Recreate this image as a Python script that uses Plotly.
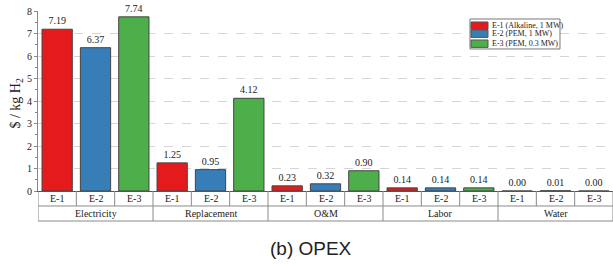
import plotly.graph_objects as go

groups = ["Electricity", "Replacement", "O&M", "Labor", "Water"]
series_names = ["E-1 (Alkaline, 1 MW)", "E-2 (PEM, 1 MW)", "E-3 (PEM, 0.3 MW)"]
short_names = ["E-1", "E-2", "E-3"]
e1_values = [7.19, 1.25, 0.23, 0.14, 0.00]
e2_values = [6.37, 0.95, 0.32, 0.14, 0.01]
e3_values = [7.74, 4.12, 0.90, 0.14, 0.00]
colors = ["#e41a1c", "#377eb8", "#4daf4a"]
y_ticks = [0, 1, 2, 3, 4, 5, 6, 7, 8]

serif = "Liberation Serif"
txt = "#222222"
all_values = [e1_values, e2_values, e3_values]
n_groups = len(groups)
n_series = len(short_names)
n_slots = n_groups * n_series

fig = go.Figure()
for k in range(n_series):
    xs = [g * n_series + k + 0.5 for g in range(n_groups)]
    fig.add_trace(go.Bar(
        x=xs, y=all_values[k], name=series_names[k], width=0.79,
        marker=dict(color=colors[k], line=dict(color="#444444", width=1)),
        text=[f"{v:.2f}" for v in all_values[k]], textposition="outside",
        textfont=dict(family=serif, size=10, color=txt),
        cliponaxis=False, showlegend=False,
    ))

row1 = -0.0833
row2 = -0.1667
shapes = []
for i in range(n_slots + 1):
    y1 = row2 if i % n_series == 0 else row1
    shapes.append(dict(type="line", xref="x", yref="paper", x0=i, x1=i, y0=0, y1=y1,
                       line=dict(color="#8a8a8a", width=1)))
for yy in (row1, row2):
    shapes.append(dict(type="line", xref="x", yref="paper", x0=0, x1=n_slots,
                       y0=yy, y1=yy, line=dict(color="#8a8a8a", width=1)))

annotations = []
for i in range(n_slots):
    annotations.append(dict(x=i + 0.5, y=row1 / 2, xref="x", yref="paper",
                            text=short_names[i % n_series], showarrow=False, yanchor="middle",
                            font=dict(family=serif, size=10, color=txt)))
for g, name in enumerate(groups):
    annotations.append(dict(x=g * n_series + n_series / 2, y=(row1 + row2) / 2, xref="x", yref="paper",
                            text=name, showarrow=False, yanchor="middle",
                            font=dict(family=serif, size=10, color=txt)))
annotations.append(dict(x=0.475, y=-0.322, xref="paper", yref="paper", text="(b) OPEX",
                        showarrow=False, yanchor="middle", xanchor="center",
                        font=dict(family="Liberation Sans", size=19, color=txt)))
annotations.append(dict(x=-0.037, y=0.49, xref="paper", yref="paper", text="$ / kg H<sub>2</sub>",
                        showarrow=False, textangle=-90, xanchor="center", yanchor="middle",
                        font=dict(family=serif, size=14, color=txt)))

# legend (drawn manually to match the small swatches)
leg_x0, leg_x1 = 0.7513, 0.9078
leg_top, leg_bot = 0.9556, 0.789
shapes.append(dict(type="rect", xref="paper", yref="paper", x0=leg_x0, x1=leg_x1,
                   y0=leg_bot, y1=leg_top, line=dict(color="#777777", width=1), fillcolor="white"))
row_tops = [0.9389, 0.8944, 0.8389]
row_h = 0.0411
for k in range(n_series):
    shapes.append(dict(type="rect", xref="paper", yref="paper", x0=0.753, x1=0.7826,
                       y0=row_tops[k] - row_h, y1=row_tops[k],
                       fillcolor=colors[k], line=dict(color="#555555", width=1)))
    annotations.append(dict(x=0.786, y=row_tops[k] - row_h / 2, xref="paper", yref="paper",
                            text=series_names[k], showarrow=False, xanchor="left", yanchor="middle",
                            font=dict(family=serif, size=8, color=txt)))

fig.update_layout(
    width=613, height=265,
    margin=dict(l=38, r=0, t=11, b=74, autoexpand=False),
    paper_bgcolor="white", plot_bgcolor="white",
    barmode="overlay",
    showlegend=False,
    hovermode=False,
    shapes=shapes,
    annotations=annotations,
    xaxis=dict(range=[0, n_slots], showticklabels=False,
               showgrid=False, zeroline=False, showline=True, linecolor="#555555", linewidth=1,
               ticks="", fixedrange=True, automargin=False),
    yaxis=dict(range=[0, 8], tickvals=y_ticks, showgrid=True, gridcolor="#d5d5d5",
               griddash="dash", gridwidth=1, zeroline=False, showline=True,
               linecolor="#888888", linewidth=1, ticks="outside", ticklen=3, tickcolor="#888888",
               minor=dict(ticks="outside", ticklen=2, dtick=0.5, tickcolor="#888888", showgrid=False),
               tickfont=dict(family=serif, size=10, color=txt), automargin=False, fixedrange=True),
)

fig.write_html("out.html", config={"displayModeBar": False},
               post_script="document.body.style.margin='0';document.body.style.overflow='hidden';")
